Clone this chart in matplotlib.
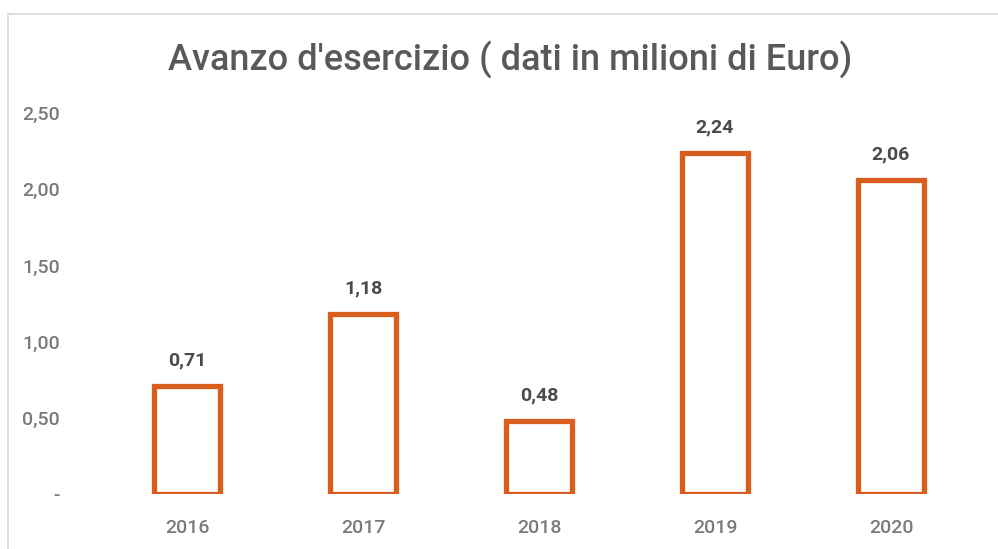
import matplotlib.pyplot as plt
from matplotlib.patches import Rectangle
from matplotlib.ticker import FuncFormatter

years = ['2016', '2017', '2018', '2019', '2020']
avanzo = [0.71, 1.18, 0.48, 2.24, 2.06]
y_ticks = [0, 0.5, 1.0, 1.5, 2.0, 2.5]

plt.rcParams['font.family'] = ['Roboto', 'DejaVu Sans']

fig = plt.figure(figsize=(9.98, 5.49), dpi=100)
ax = fig.add_axes([99 / 998, 1 - 494 / 549, 880 / 998, 381 / 549])

# light chart frame, running off the right/bottom edge like the screenshot
fig.patches.append(Rectangle((8 / 998, -0.1), 1.2, 1.1 - 14 / 549,
                             transform=fig.transFigure, fill=False,
                             edgecolor='#d9d9d9', linewidth=1.2))

x = range(len(years))
bars = ax.bar(x, avanzo, width=0.38, facecolor='white',
              edgecolor='#d95d1c', linewidth=3.8)

for b, v in zip(bars, avanzo):
    ax.annotate(f'{v:.2f}'.replace('.', ','),
                (b.get_x() + b.get_width() / 2, v),
                xytext=(0, 12), textcoords='offset points',
                ha='center', va='bottom', fontsize=14, fontweight='bold',
                color='#4a4a4a')

ax.set_xlim(-0.5, len(years) - 0.5)
ax.set_ylim(0, 2.5)
ax.set_xticks(list(x))
ax.set_xticklabels(years)
ax.set_yticks(y_ticks)
ax.yaxis.set_major_formatter(FuncFormatter(
    lambda v, p: '-' if v == 0 else f'{v:.2f}'.replace('.', ',')))
ax.tick_params(axis='y', length=0, pad=28, labelsize=14, labelcolor='#7a7a7a')
ax.tick_params(axis='x', length=0, pad=18, labelsize=14, labelcolor='#7a7a7a')
for lbl in ax.get_xticklabels() + ax.get_yticklabels():
    lbl.set_fontweight('medium')
for s in ax.spines.values():
    s.set_visible(False)

fig.text(510 / 998, 1 - 60 / 549, "Avanzo d'esercizio ( dati in milioni di Euro)",
         ha='center', va='center', fontsize=26, fontweight='medium',
         color='#595959')

plt.savefig('out.png', dpi=100)
